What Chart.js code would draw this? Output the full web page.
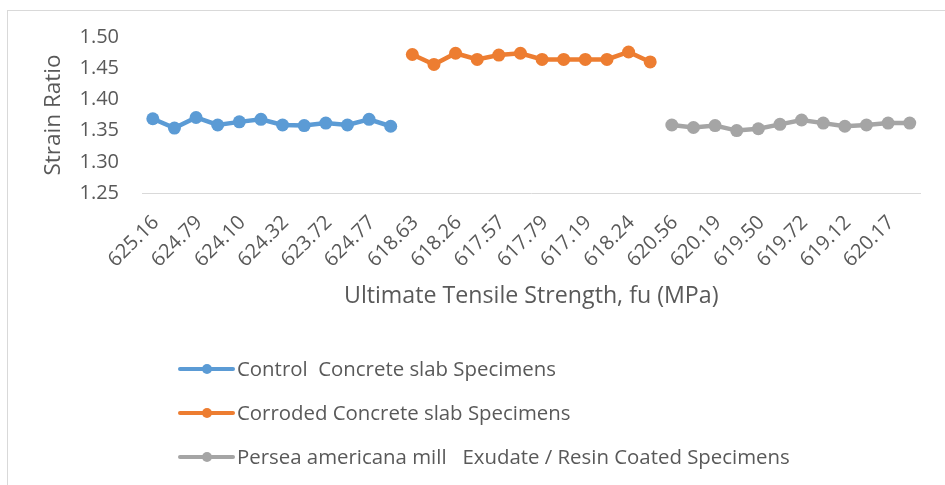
<!DOCTYPE html>
<html>
<head>
<meta charset="utf-8">
<script src="https://cdn.jsdelivr.net/npm/chart.js@4.4.1/dist/chart.umd.min.js"></script>
<style>
  html, body { margin: 0; padding: 0; background: #ffffff; }
  #wrap { width: 945px; height: 485px; position: relative; }
</style>
</head>
<body>
<div id="wrap"><canvas id="c" width="945" height="485"></canvas></div>
<script>
// ---- data ----
const categories = [
  '625.16','624.98','624.79','624.45','624.10','624.21','624.32','624.05','623.72','624.30','624.77','624.60',
  '618.63','618.40','618.26','617.90','617.57','617.66','617.79','617.42','617.19','617.85','618.24','618.02',
  '620.56','620.35','620.19','619.80','619.50','619.61','619.72','619.40','619.12','619.70','620.17','620.05'
];
const controlValues  = [1.369, 1.354, 1.371, 1.359, 1.364, 1.368, 1.359, 1.358, 1.362, 1.359, 1.368, 1.357];
const corrodedValues = [1.472, 1.456, 1.474, 1.464, 1.471, 1.474, 1.464, 1.464, 1.464, 1.464, 1.476, 1.460];
const coatedValues   = [1.359, 1.355, 1.358, 1.350, 1.353, 1.360, 1.367, 1.362, 1.357, 1.359, 1.362, 1.362];
const seriesNames = [
  'Control  Concrete slab Specimens',
  'Corroded Concrete slab Specimens',
  'Persea americana mill   Exudate / Resin Coated Specimens'
];
const yTicks = [1.25, 1.30, 1.35, 1.40, 1.45, 1.50];

// ---- build datasets (each series occupies its own block of categories) ----
function place(values, start) {
  const arr = new Array(categories.length).fill(null);
  values.forEach((v, i) => { arr[start + i] = v; });
  return arr;
}
const colors = ['#5B9BD5', '#ED7D31', '#A5A5A5'];
const blocks = [controlValues, corrodedValues, coatedValues];
let offset = 0;
const datasets = blocks.map((vals, k) => {
  const ds = {
    label: seriesNames[k],
    data: place(vals, offset),
    borderColor: colors[k],
    backgroundColor: colors[k],
    pointBackgroundColor: colors[k],
    pointBorderColor: colors[k],
    pointBorderWidth: 0,
    pointRadius: 6.5,
    pointHoverRadius: 6.5,
    borderWidth: 4.5,
    spanGaps: false,
    tension: 0
  };
  offset += vals.length;
  return ds;
});

const FONT = 'Open Sans';
const TXT = '#595959';

const framePlugin = {
  id: 'frame',
  beforeDraw(chart) {
    const ctx = chart.ctx;
    ctx.save();
    ctx.strokeStyle = '#d9d9d9';
    ctx.lineWidth = 1;
    ctx.beginPath();
    ctx.moveTo(7, 10.5); ctx.lineTo(945, 10.5);
    ctx.moveTo(7.5, 10); ctx.lineTo(7.5, 485);
    ctx.stroke();
    ctx.restore();
  }
};

const legendPlugin = {
  id: 'vlegend',
  afterDraw(chart) {
    const ctx = chart.ctx;
    const rows = [369, 413, 457];
    ctx.save();
    ctx.font = '20.4px "' + FONT + '"';
    ctx.textBaseline = 'middle';
    ctx.textAlign = 'left';
    chart.data.datasets.forEach((ds, i) => {
      const y = rows[i];
      ctx.strokeStyle = ds.borderColor;
      ctx.lineWidth = 4;
      ctx.lineCap = 'round';
      ctx.beginPath();
      ctx.moveTo(180, y); ctx.lineTo(233, y);
      ctx.stroke();
      ctx.fillStyle = ds.borderColor;
      ctx.beginPath();
      ctx.arc(207, y, 5, 0, Math.PI * 2);
      ctx.fill();
      ctx.fillStyle = TXT;
      ctx.fillText(ds.label, 237, y + 1);
    });
    ctx.restore();
  }
};

new Chart(document.getElementById('c'), {
  type: 'line',
  data: { labels: categories, datasets },
  options: {
    responsive: false,
    animation: false,
    devicePixelRatio: 1,
    layout: { padding: { left: 8, top: 37, right: 22, bottom: 175 } },
    plugins: {
      legend: { display: false },
      tooltip: { enabled: false }
    },
    scales: {
      x: {
        type: 'category',
        offset: true,
        grid: { display: false, drawTicks: false },
        border: { display: true, color: '#d9d9d9', width: 1 },
        ticks: {
          autoSkip: false,
          maxRotation: 45,
          minRotation: 45,
          padding: 18,
          labelOffset: 3,
          color: TXT,
          font: { family: FONT, size: 20 },
          callback: function (v, i) { return i % 2 === 0 ? categories[i] : ''; }
        },
        title: {
          display: true,
          text: 'Ultimate Tensile Strength, fu (MPa)',
          color: TXT,
          font: { family: FONT, size: 23.2 },
          padding: { top: 0, bottom: 0 }
        },
        afterFit(scale) { scale.height = 117; }
      },
      y: {
        min: 1.25,
        max: 1.50,
        grid: { display: false, drawTicks: false },
        border: { display: false },
        afterBuildTicks(scale) { scale.ticks = yTicks.map(v => ({ value: v })); },
        ticks: {
          padding: 23,
          color: TXT,
          font: { family: FONT, size: 20 },
          callback: v => Number(v).toFixed(2)
        },
        title: {
          display: true,
          text: 'Strain Ratio',
          color: TXT,
          font: { family: FONT, size: 22.5 },
          padding: { top: 32, bottom: 0 }
        },
        afterFit(scale) { scale.width = 134; }
      }
    }
  },
  plugins: [framePlugin, legendPlugin]
});
</script>
</body>
</html>
